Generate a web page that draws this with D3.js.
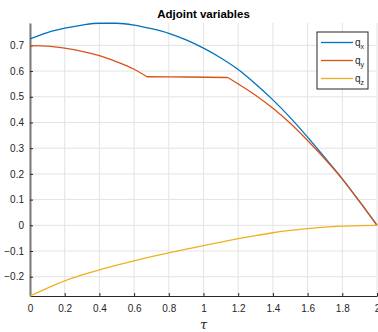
<!DOCTYPE html>
<html>
<head>
<meta charset="utf-8">
<script src="https://cdn.jsdelivr.net/npm/d3@7"></script>
<style>
  body { margin: 0; background: #fff; }
  svg { display: block; font-family: "Liberation Sans", Arial, sans-serif; }
</style>
</head>
<body>
<svg id="chart"></svg>
<script>
// Values
const tauX = [0, 0.1, 0.2, 0.3, 0.4, 0.5, 0.6, 0.7, 0.8, 0.9, 1.0,
              1.1, 1.2, 1.3, 1.4, 1.5, 1.6, 1.7, 1.8, 1.9, 2.0];
const qx = [0.725, 0.750, 0.767, 0.779, 0.786, 0.786, 0.779, 0.765, 0.747, 0.721, 0.689,
            0.651, 0.606, 0.550, 0.488, 0.419, 0.343, 0.263, 0.181, 0.092, 0.0];

const tauY = [0, 0.1, 0.2, 0.3, 0.4, 0.5, 0.6, 0.674, 0.9, 1.14,
              1.2, 1.3, 1.4, 1.5, 1.6, 1.7, 1.8, 1.9, 2.0];
const qy = [0.699, 0.697, 0.689, 0.677, 0.660, 0.636, 0.607, 0.578, 0.577, 0.575,
            0.550, 0.506, 0.455, 0.397, 0.330, 0.258, 0.180, 0.092, 0.0];
// corners in the q_y curve (switching times)
const qyKinks = [0.674, 1.14];

const tauZ = tauX;
const qz = [-0.275, -0.244, -0.216, -0.193, -0.173, -0.155, -0.138, -0.122, -0.107, -0.093, -0.079,
            -0.065, -0.052, -0.040, -0.029, -0.020, -0.013, -0.007, -0.003, -0.001, 0.0];

const xTicks = [0, 0.2, 0.4, 0.6, 0.8, 1, 1.2, 1.4, 1.6, 1.8, 2];
const yTicks = [-0.2, -0.1, 0, 0.1, 0.2, 0.3, 0.4, 0.5, 0.6, 0.7];
const seriesNames = ["x", "y", "z"];
const colors = ["#0072BD", "#D95319", "#EDB120"];

const width = 378;
const height = 332;
const margin = { top: 23, right: 1, bottom: 36, left: 30 };

const svg = d3.select("#chart")
    .attr("width", width)
    .attr("height", height);

const x = d3.scaleLinear()
    .domain([0, 2])
    .range([margin.left, width - margin.right]);

const y = d3.scaleLinear()
    .domain([-0.275, 0.787])
    .range([height - margin.bottom, margin.top]);

// Grid
svg.append("g")
    .selectAll("line")
    .data(xTicks)
    .enter()
    .append("line")
    .attr("x1", d => x(d)).attr("x2", d => x(d))
    .attr("y1", y.range()[0]).attr("y2", y.range()[1])
    .attr("stroke", "#e3e3e3")
    .attr("stroke-width", 1);

svg.append("g")
    .selectAll("line")
    .data(yTicks)
    .enter()
    .append("line")
    .attr("x1", x.range()[0]).attr("x2", x.range()[1])
    .attr("y1", d => y(d)).attr("y2", d => y(d))
    .attr("stroke", "#e3e3e3")
    .attr("stroke-width", 1);

// Axes
const fmt = d3.format("~g");

const xAxis = svg.append("g")
    .attr("transform", `translate(0, ${y.range()[0]})`)
    .call(d3.axisBottom(x).tickValues(xTicks).tickFormat(fmt).tickSizeInner(-3).tickSizeOuter(0).tickPadding(9));

const yAxis = svg.append("g")
    .attr("transform", `translate(${x.range()[0]}, 0)`)
    .call(d3.axisLeft(y).tickValues(yTicks).tickFormat(fmt).tickSizeInner(-3).tickSizeOuter(0).tickPadding(6));

xAxis.select(".domain").attr("stroke", "#262626");
yAxis.select(".domain").attr("stroke", "#7a7a7a").attr("stroke-width", 2);
[xAxis, yAxis].forEach(a => {
    a.selectAll(".tick line").attr("stroke", "#262626");
    a.selectAll(".tick text")
        .attr("fill", "#262626")
        .style("font-size", "10px")
        .style("font-family", "'Liberation Sans', Arial, sans-serif");
});

// Lines
const line = d3.line()
    .x(d => x(d[0]))
    .y(d => y(d[1]))
    .curve(d3.curveMonotoneX);

// split a series at its corners so they stay sharp
function splitAt(points, kinks) {
    const parts = [];
    let current = [];
    points.forEach(p => {
        current.push(p);
        if (kinks.includes(p[0])) {
            parts.push(current);
            current = [p];
        }
    });
    parts.push(current);
    return parts;
}

const series = [
    [d3.zip(tauX, qx)],
    splitAt(d3.zip(tauY, qy), qyKinks),
    [d3.zip(tauZ, qz)]
];

series.forEach((parts, i) => {
    svg.append("path")
        .attr("d", parts.map(p => line(p)).join(""))
        .attr("fill", "none")
        .attr("stroke", colors[i])
        .attr("stroke-width", 1.3)
        .attr("stroke-linejoin", "round");
});

// Title
svg.append("text")
    .attr("x", (x.range()[0] + x.range()[1]) / 2)
    .attr("y", 18)
    .attr("text-anchor", "middle")
    .style("font-size", "11.5px")
    .style("font-weight", "bold")
    .attr("fill", "#000")
    .text("Adjoint variables");

// X label
svg.append("text")
    .attr("x", (x.range()[0] + x.range()[1]) / 2)
    .attr("y", 329)
    .attr("text-anchor", "middle")
    .style("font-size", "13px")
    .style("font-style", "italic")
    .style("font-family", "'DejaVu Serif', 'Liberation Serif', serif")
    .attr("fill", "#262626")
    .text("τ");

// Legend
const legend = svg.append("g").attr("transform", "translate(317, 32)");

legend.append("rect")
    .attr("width", 51)
    .attr("height", 57)
    .attr("fill", "#fff")
    .attr("stroke", "#262626")
    .attr("stroke-width", 1);

const items = legend.selectAll(".item")
    .data(seriesNames)
    .enter()
    .append("g")
    .attr("class", "item")
    .attr("transform", (d, i) => `translate(0, ${10.5 + i * 18})`);

items.append("line")
    .attr("x1", 4).attr("x2", 36)
    .attr("stroke", (d, i) => colors[i])
    .attr("stroke-width", 1.3);

const lt = items.append("text")
    .attr("x", 38)
    .attr("y", 3)
    .style("font-size", "10px")
    .attr("fill", "#262626");
lt.append("tspan").text("q");
lt.append("tspan")
    .attr("dy", 3)
    .style("font-size", "7px")
    .text(d => d);
</script>
</body>
</html>
